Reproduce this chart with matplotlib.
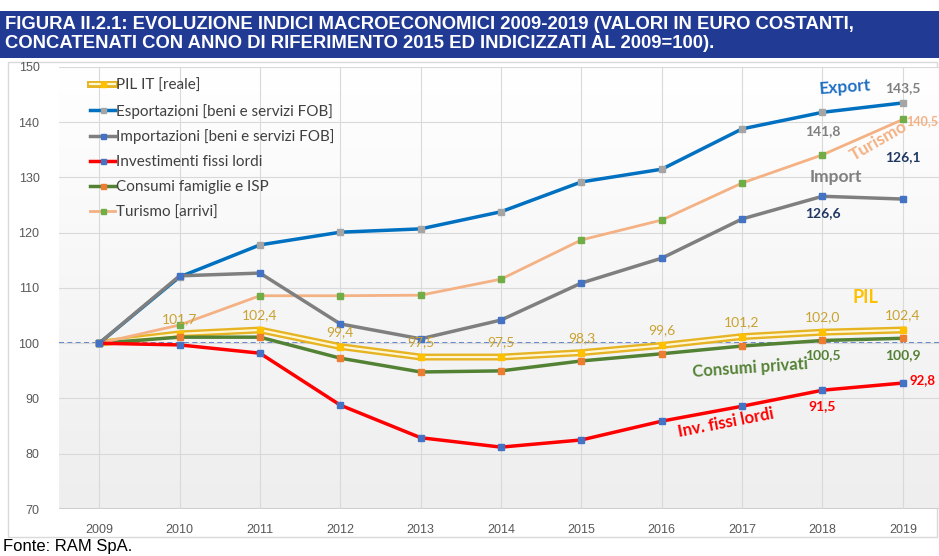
#!/usr/bin/env python3

import matplotlib
matplotlib.use("Agg")
import matplotlib.pyplot as plt
from matplotlib.patches import Rectangle
from matplotlib.colors import LinearSegmentedColormap
from matplotlib.legend_handler import HandlerTuple
import numpy as np

years = [2009, 2010, 2011, 2012, 2013, 2014, 2015, 2016, 2017, 2018, 2019]

pil = [100, 101.7, 102.4, 99.4, 97.5, 97.5, 98.3, 99.6, 101.2, 102.0, 102.4]
export = [100, 112.0, 117.8, 120.1, 120.7, 123.8, 129.2, 131.5, 138.8, 141.8, 143.5]
imports = [100, 112.2, 112.7, 103.5, 100.8, 104.2, 110.9, 115.4, 122.5, 126.6, 126.1]
investimenti = [100, 99.7, 98.2, 88.8, 82.9, 81.2, 82.5, 85.9, 88.6, 91.5, 92.8]
consumi = [100, 101.1, 101.1, 97.3, 94.8, 95.0, 96.8, 98.1, 99.5, 100.5, 100.9]
turismo = [100, 103.3, 108.6, 108.6, 108.7, 111.6, 118.7, 122.3, 129.0, 134.1, 140.5]

legend_labels = ["PIL IT [reale]",
                 "Esportazioni [beni e servizi FOB]",
                 "Importazioni [beni e servizi FOB]",
                 "Investimenti fissi lordi",
                 "Consumi famiglie e ISP",
                 "Turismo [arrivi]"]

title_text = ("FIGURA II.2.1: EVOLUZIONE INDICI MACROECONOMICI 2009-2019 (VALORI IN EURO COSTANTI,\n"
              "CONCATENATI CON ANNO DI RIFERIMENTO 2015 ED INDICIZZATI AL 2009=100).")

SANS = ["Liberation Sans", "DejaVu Sans"]
LATO = ["Lato", "DejaVu Sans"]


def fmt(v):
    return f"{v:.1f}".replace(".", ",")


def main():
    W, H = 939, 556
    fig = plt.figure(figsize=(W / 100, H / 100), dpi=100)

    # title bar
    fig.patches.append(Rectangle((0, 1 - 58 / H), 1, 47 / H, transform=fig.transFigure,
                                 facecolor="#213a94", edgecolor="none", zorder=-5))
    fig.text(5 / W, 1 - 34 / H, title_text, color="white", fontsize=13.3,
             fontweight="bold", family=SANS, va="center", ha="left",
             linespacing=1.1)

    # chart border
    fig.patches.append(Rectangle((8 / W, 1 - 537 / H), 929 / W, 475 / H,
                                 transform=fig.transFigure, facecolor="none",
                                 edgecolor="#d9d9d9", lw=1, zorder=-5))

    fig.text(3 / W, 1 - 546 / H, "Fonte: RAM SpA.", fontsize=12, family=SANS,
             va="center", ha="left", color="black")

    ax = fig.add_axes([59 / W, 47 / H, 880 / W, 442 / H])
    xlim = (2008.5, 2019.45)
    ylim = (70, 150)

    # background gradient
    grad = np.linspace(0, 1, 256).reshape(-1, 1)
    ax.imshow(grad, aspect="auto", extent=[xlim[0], xlim[1], ylim[0], ylim[1]],
              origin="upper", zorder=0,
              cmap=LinearSegmentedColormap.from_list("bg", ["#ffffff", "#eeeeee"]))
    ax.set_xlim(*xlim)
    ax.set_ylim(*ylim)

    for s in ax.spines.values():
        s.set_visible(False)
    ax.set_yticks(np.arange(70, 151, 10))
    ax.set_xticks(years)
    ax.grid(True, color="#d9d9d9", lw=0.8, zorder=1)
    ax.set_axisbelow(False)
    ax.axhline(70, color="#cfcfcf", lw=1.5, zorder=1)
    ax.tick_params(length=0, labelsize=9, labelcolor="#595959")
    ax.tick_params(axis="x", pad=11)
    ax.tick_params(axis="y", pad=14)
    for lab in ax.get_xticklabels() + ax.get_yticklabels():
        lab.set_family(SANS)

    ax.axhline(100, color="#4472c4", lw=1.2, ls=(0, (3, 2)), zorder=2)

    ms = 4.5
    pil_outer, = ax.plot(years, pil, color="#e6b422", lw=5, zorder=3)
    pil_inner, = ax.plot(years, pil, color="#fff6d5", lw=1.6, zorder=3.1,
                         marker="s", ms=ms, mfc="#ffc000", mec="#ffc000")
    ex, = ax.plot(years, export, color="#0070c0", lw=2.5, zorder=4,
                  marker="s", ms=ms, mfc="#a5a5a5", mec="#a5a5a5")
    im, = ax.plot(years, imports, color="#7f7f7f", lw=2.5, zorder=4,
                  marker="s", ms=ms, mfc="#4472c4", mec="#4472c4")
    inv, = ax.plot(years, investimenti, color="#ff0000", lw=2.5, zorder=4,
                   marker="s", ms=ms, mfc="#4472c4", mec="#4472c4")
    co, = ax.plot(years, consumi, color="#548235", lw=2.5, zorder=3.5,
                  marker="s", ms=ms, mfc="#ed7d31", mec="#ed7d31")
    tu, = ax.plot(years, turismo, color="#f4b183", lw=2, zorder=3.5,
                  marker="s", ms=ms, mfc="#70ad47", mec="#70ad47")

    leg = ax.legend([(pil_outer, pil_inner), ex, im, inv, co, tu], legend_labels,
                    handler_map={tuple: HandlerTuple(ndivide=1)},
                    loc="upper left", bbox_to_anchor=(0.02, 1.005), frameon=False,
                    handlelength=1.6, handletextpad=0.1,
                    labelspacing=0.72, markerscale=0.8, prop={"family": LATO, "size": 11})
    for t in leg.get_texts():
        t.set_color("#404040")

    # PIL value labels
    for x, v in zip(years[1:], pil[1:]):
        ax.text(x, v + 1.6, fmt(v), color="#c9a230", fontsize=10, family=LATO,
                ha="center", va="bottom", zorder=5)

    bold = dict(fontweight="bold", zorder=6, family=LATO)
    ax.text(2018.28, 146.4, "Export", color="#1f6fc4", fontsize=12.5, ha="center",
            va="center", rotation=4, **bold)
    ax.text(2019, 146.2, fmt(export[-1]), color="#7f7f7f", fontsize=10,
            ha="center", va="center", **bold)
    ax.text(2018, 138.4, fmt(export[-2]), color="#7f7f7f", fontsize=10,
            ha="center", va="center", **bold)
    ax.text(2018.7, 136.6, "Turismo", color="#f4b183", fontsize=12.5, ha="center",
            va="center", rotation=30, **bold)
    ax.text(2019.04, 140.2, fmt(turismo[-1]), color="#f4b183", fontsize=9,
            ha="left", va="center", **bold)
    ax.text(2018.17, 130.1, "Import", color="#808080", fontsize=12.5, ha="center",
            va="center", **bold)
    ax.text(2019, 133.7, fmt(imports[-1]), color="#1f3864", fontsize=10,
            ha="center", va="center", **bold)
    ax.text(2018, 123.6, fmt(imports[-2]), color="#1f3864", fontsize=10,
            ha="center", va="center", **bold)
    ax.text(2018.54, 108.2, "PIL", color="#ffc000", fontsize=13, ha="center",
            va="center", **bold)
    ax.text(2017.1, 95.6, "Consumi privati", color="#548235", fontsize=12,
            ha="center", va="center", rotation=4, **bold)
    ax.text(2018, 97.8, fmt(consumi[-2]), color="#548235", fontsize=10,
            ha="center", va="center", **bold)
    ax.text(2019, 97.9, fmt(consumi[-1]), color="#548235", fontsize=10,
            ha="center", va="center", **bold)
    ax.text(2016.8, 85.6, "Inv. fissi lordi", color="#ff0000", fontsize=12,
            ha="center", va="center", rotation=11, **bold)
    ax.text(2018, 88.7, fmt(investimenti[-2]), color="#ff0000", fontsize=10,
            ha="center", va="center", **bold)
    ax.text(2019.08, 93.4, fmt(investimenti[-1]), color="#ff0000", fontsize=9.5,
            ha="left", va="center", **bold)

    fig.savefig("out.png", dpi=100)


if __name__ == "__main__":
    main()
